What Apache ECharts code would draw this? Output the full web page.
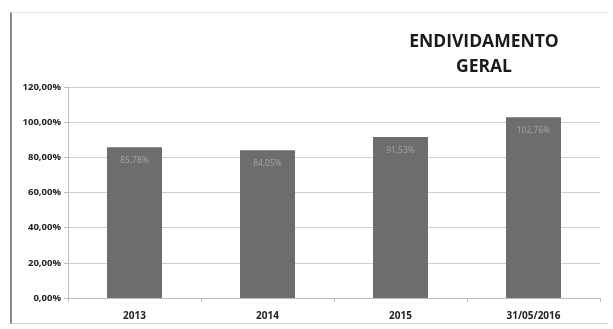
<!DOCTYPE html>
<html>
<head>
<meta charset="utf-8">
<script src="https://cdn.jsdelivr.net/npm/echarts@6/dist/echarts.min.js"></script>
<style>
  html, body { margin: 0; padding: 0; background: #ffffff; }
  #frame { position: absolute; left: 10px; top: 12px; width: 596px; height: 310px;
           border-left: 2px solid #8a8a8a; border-top: 1px solid #e4e4e4; border-bottom: 1px solid #d0d0d0; }
  #chart { position: absolute; left: 0; top: 0; width: 613px; height: 329px; }
</style>
</head>
<body>
<div id="frame"></div>
<div id="chart"></div>
<script>
// Endividamento geral por período
const categories = ['2013', '2014', '2015', '31/05/2016'];
const endividamento = [85.78, 84.05, 91.53, 102.76];
const yTicks = [0, 20, 40, 60, 80, 100, 120];

const fmt = v => v.toFixed(2).replace('.', ',') + '%';
const FONT = 'Open Sans';

const chart = echarts.init(document.getElementById('chart'), null, { renderer: 'canvas' });
chart.setOption({
  animation: false,
  title: {
    text: 'ENDIVIDAMENTO\nGERAL',
    left: 479,
    top: 25,
    textAlign: 'center',
    textStyle: { fontFamily: FONT, fontWeight: 'bold', fontSize: 17.5, color: '#1a1a1a', lineHeight: 25 }
  },
  grid: { left: 68, right: 13, top: 87, bottom: 31 },
  xAxis: {
    type: 'category',
    data: categories,
    axisLine: { show: true, lineStyle: { color: '#bdbdbd', width: 1 } },
    axisTick: { show: true, alignWithLabel: false, length: 4, lineStyle: { color: '#bdbdbd' } },
    axisLabel: { fontFamily: FONT, fontWeight: 'bold', fontSize: 10, color: '#222', margin: 13 }
  },
  yAxis: {
    type: 'value',
    min: yTicks[0],
    max: yTicks[yTicks.length - 1],
    interval: 20,
    axisLine: { show: true, lineStyle: { color: '#bdbdbd', width: 1 } },
    axisTick: { show: true, length: 4, lineStyle: { color: '#bdbdbd' } },
    axisLabel: { fontFamily: FONT, fontWeight: 'bold', fontSize: 9.5, color: '#222', margin: 7,
                 formatter: v => fmt(v) },
    splitLine: { show: true, lineStyle: { color: '#cfcfcf', width: 1 } }
  },
  series: [{
    type: 'bar',
    data: endividamento,
    barWidth: 55,
    itemStyle: { color: '#6d6d6d' },
    label: {
      show: true,
      position: 'insideTop',
      distance: 9,
      fontFamily: FONT,
      fontSize: 8.5,
      color: '#a5a5a5',
      formatter: p => fmt(p.value)
    }
  }]
});
</script>
</body>
</html>
